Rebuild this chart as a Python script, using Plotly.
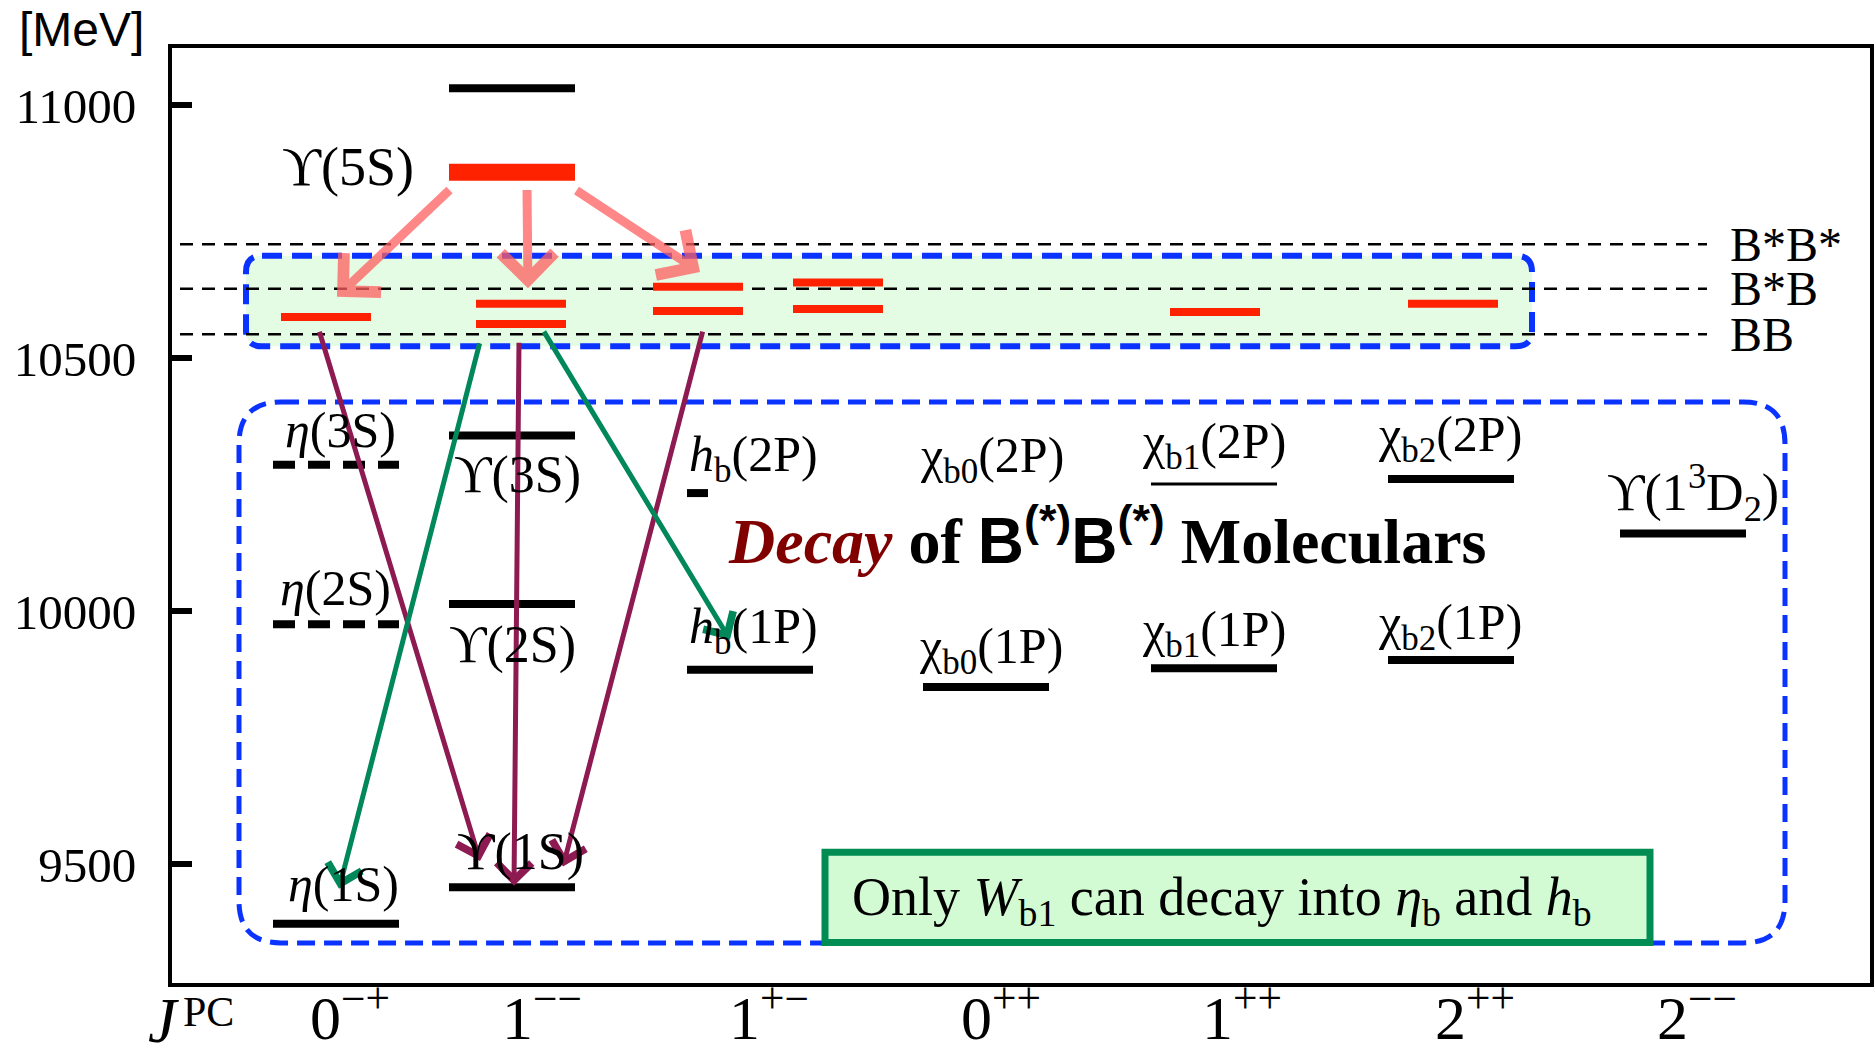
import plotly.graph_objects as go

# ---------------- data ----------------
jpc_labels = ["0<sup>−+</sup>", "1<sup>−−</sup>", "1<sup>+−</sup>", "0<sup>++</sup>",
              "1<sup>++</sup>", "2<sup>++</sup>", "2<sup>−−</sup>"]

# ordinary bottomonium levels (MeV)
level_names = ["η(1S)", "η(2S)", "η(3S)", "ϒ(1S)", "ϒ(2S)", "ϒ(3S)", "ϒ(6S)",
               "hb(1P)", "hb(2P)", "χb0(1P)", "χb1(1P)", "χb1(2P)",
               "χb2(1P)", "χb2(2P)", "ϒ(1D2)"]
level_col = [0, 0, 0, 1, 1, 1, 1, 2, 2, 3, 4, 4, 5, 5, 6]
level_mass = [9383, 9975, 10290, 9455, 10015, 10348, 11034, 9885, 10234,
              9851, 9888, 10252, 9904, 10262, 10154]

# B(*)B(*) molecular states (red)
mol_col = [0, 1, 1, 2, 2, 3, 3, 4, 5]
mol_mass = [10582, 10608, 10568, 10642, 10594, 10650, 10598, 10592, 10608]

upsilon5s_col = 1
upsilon5s_mass = 10868

threshold_names = ["B*B*", "B*B", "BB"]
threshold_mass = [10726, 10638, 10548]

ytick_vals = [9500, 10000, 10500, 11000]
ytick_text = ["9500", "10000", "10500", "11000"]

# decays: (start position, start mass) -> (end position, end mass)
pink_from = [(451, 10836), (527, 10836), (575, 10834)]
pink_to = [(337, 10622), (528, 10639), (700, 10671)]
purple_from = [(319, 10556), (519, 10534), (703, 10556)]
purple_to = [(480, 9507), (514, 9458), (563, 9496)]
green_from = [(480, 10533), (543, 10556)]
green_to = [(339, 9452), (730, 9944)]

# ---------------- layout / style ----------------
W, H = 1874, 1050
L, R, T, B = 172, 4, 48, 67
XR = [172, 1870]
YR = [9265.8, 11113.6]
PX_PER_MEV = (H - T - B) / (YR[1] - YR[0])

col_center = [336, 512, 750, 986, 1214, 1451, 1683]
mol_center = [326, 521, 698, 838, 1215, 1453]
half_w = 63
mol_half = 45
cat_label_x = [350, 542, 769, 1001, 1242, 1475, 1697]

level_style = {"η(2S)": "dash", "η(3S)": "dash", "χb1(2P)": "thin", "hb(2P)": "short"}

SERIF = "Liberation Serif, Times New Roman, serif"
SANS = "Liberation Sans, Arial, sans-serif"
RED = "#ff2200"
BLUE = "#0a33ff"


def seg(xs, ys):
    X, Y = [], []
    for (x0, x1), y in zip(xs, ys):
        X += [x0, x1, None]
        Y += [y, y, None]
    return X, Y


fig = go.Figure()

groups = {"solid": ([], []), "dash": ([], []), "thin": ([], []), "short": ([], [])}
for n, c, m in zip(level_names, level_col, level_mass):
    st = level_style.get(n, "solid")
    if st == "short":
        x0 = col_center[c] - half_w
        groups[st][0].append((x0, x0 + 21))
    else:
        groups[st][0].append((col_center[c] - half_w, col_center[c] + half_w))
    groups[st][1].append(m)

for st, width, dash in [("solid", 8, "solid"), ("short", 8, "solid"),
                        ("thin", 3, "solid"), ("dash", 8, "22px,13px")]:
    X, Y = seg(*groups[st])
    fig.add_trace(go.Scatter(x=X, y=Y, mode="lines", hoverinfo="skip",
                             line=dict(color="black", width=width, dash=dash),
                             showlegend=False))

# thresholds
X, Y = seg([(180, 1707)] * len(threshold_mass), threshold_mass)
fig.add_trace(go.Scatter(x=X, y=Y, mode="lines", hoverinfo="skip",
                         line=dict(color="black", width=2.5, dash="13px,9px"),
                         showlegend=False))

# molecular states
X, Y = seg([(mol_center[c] - mol_half, mol_center[c] + mol_half) for c in mol_col], mol_mass)
fig.add_trace(go.Scatter(x=X, y=Y, mode="lines", hoverinfo="skip",
                         line=dict(color=RED, width=8), showlegend=False))
# Upsilon(5S)
X, Y = seg([(col_center[upsilon5s_col] - half_w, col_center[upsilon5s_col] + half_w)], [upsilon5s_mass])
fig.add_trace(go.Scatter(x=X, y=Y, mode="lines", hoverinfo="skip",
                         line=dict(color=RED, width=17), showlegend=False))


def rounded(x0, x1, y0, y1, r):
    ry = r / PX_PER_MEV
    return (f"M {x0+r},{y1} L {x1-r},{y1} Q {x1},{y1} {x1},{y1-ry} "
            f"L {x1},{y0+ry} Q {x1},{y0} {x1-r},{y0} L {x0+r},{y0} "
            f"Q {x0},{y0} {x0},{y0+ry} L {x0},{y1-ry} Q {x0},{y1} {x0+r},{y1} Z")


shapes = [
    dict(type="path", xref="x", yref="y", layer="below",
         path=rounded(246, 1532, 10524, 10703, 16),
         fillcolor="#e4fbe4", line=dict(color=BLUE, width=6, dash="20px,10px")),
    dict(type="path", xref="x", yref="y", layer="below",
         path=rounded(239, 1785, 9345, 10414, 42),
         fillcolor="rgba(0,0,0,0)", line=dict(color=BLUE, width=5, dash="18px,9px")),
    dict(type="rect", xref="x", yref="y", layer="above",
         x0=825, x1=1650, y0=9346, y1=9524,
         fillcolor="#d3fbd3", line=dict(color="#008c52", width=7)),
]

ann = []


def arrows(frm, to, color, width, size):
    for (ax, ay), (x, y) in zip(frm, to):
        ann.append(dict(x=x, y=y, ax=ax, ay=ay, xref="x", yref="y", axref="x", ayref="y",
                        text="", showarrow=True, arrowhead=4, arrowsize=size,
                        arrowwidth=width, arrowcolor=color, standoff=0, startstandoff=0))


arrows(pink_from, pink_to, "rgba(255,95,95,0.75)", 9, 1.15)
arrows(purple_from, purple_to, "#8e1a52", 5, 1.35)
arrows(green_from, green_to, "#00875a", 5, 1.35)


def label(text, x, y, size=50, **kw):
    d = dict(text=text, x=x, y=y, xref="x", yref="y", showarrow=False,
             font=dict(family=SERIF, size=size, color="black"),
             xanchor="center", yanchor="middle")
    d.update(kw)
    ann.append(d)


level_labels = [
    ("ϒ(5S)", 348, 10878, 54),
    ("<i>η</i>(3S)", 340, 10359, 50),
    ("ϒ(3S)", 517, 10270, 52),
    ("<i>h</i><sub>b</sub>(2P)", 753, 10303, 50),
    ("χ<sub>b0</sub>(2P)", 992, 10301, 50),
    ("χ<sub>b1</sub>(2P)", 1214, 10329, 50),
    ("χ<sub>b2</sub>(2P)", 1450, 10343, 50),
    ("ϒ(1<sup>3</sup>D<sub>2</sub>)", 1693, 10236, 52),
    ("<i>η</i>(2S)", 335, 10046, 50),
    ("ϒ(2S)", 512, 9934, 52),
    ("<i>h</i><sub>b</sub>(1P)", 753, 9963, 50),
    ("χ<sub>b0</sub>(1P)", 991, 9924, 50),
    ("χ<sub>b1</sub>(1P)", 1214, 9957, 50),
    ("χ<sub>b2</sub>(1P)", 1450, 9971, 50),
    ("ϒ(1S)", 520, 9525, 52),
    ("<i>η</i>(1S)", 343, 9461, 50),
]
for t, x, y, s in level_labels:
    label(t, x, y, size=s)

for name, m in zip(threshold_names, threshold_mass):
    label(name, 1728, m, size=48, xanchor="left")

label("<span style='color:#800000'><b><i>Decay</i></b></span><b> of </b>"
      "<span style='font-family:Liberation Sans'><b>B<sup>(*)</sup>B<sup>(*)</sup></b></span>"
      "<b> Moleculars</b>", 1107, 10150, size=64)

label("Only <i>W</i><sub>b1</sub> can decay into <i>η</i><sub>b</sub> and <i>h</i><sub>b</sub>",
      1222, 9428, size=54)


def paper(px, py):
    return (px - L) / (W - L - R), (H - B - py) / (H - T - B)


px_, py_ = paper(81, 30)
ann.append(dict(text="[MeV]", x=px_, y=py_, xref="paper", yref="paper", showarrow=False,
                font=dict(family=SANS, size=48, color="black"), xanchor="center", yanchor="middle"))
px_, py_ = paper(181, 1020)
ann.append(dict(text="<i>J</i>", x=px_, y=py_, xref="paper", yref="paper",
                showarrow=False, font=dict(family=SERIF, size=64, color="black"),
                xanchor="right", yanchor="middle"))
px_, py_ = paper(181, 1012)
ann.append(dict(text="PC", x=px_, y=py_, xref="paper", yref="paper",
                showarrow=False, font=dict(family=SERIF, size=42, color="black"),
                xanchor="left", yanchor="middle"))

fig.update_layout(
    width=W, height=H, autosize=False,
    margin=dict(l=L, r=R, t=T, b=B, pad=0),
    paper_bgcolor="white", plot_bgcolor="white",
    showlegend=False,
    shapes=shapes, annotations=ann,
    xaxis=dict(range=XR, showgrid=False, zeroline=False, showline=True, mirror=True,
               linecolor="black", linewidth=4, ticks="", automargin=False,
               tickmode="array", tickvals=cat_label_x, ticktext=jpc_labels,
               tickfont=dict(family=SERIF, size=62, color="black"), ticklabelstandoff=-22),
    yaxis=dict(range=YR, showgrid=False, zeroline=False, showline=True, mirror=True,
               linecolor="black", linewidth=4, ticks="inside", ticklen=20, tickwidth=6,
               automargin=False,
               tickcolor="black", tickmode="array", tickvals=ytick_vals, ticktext=ytick_text,
               tickfont=dict(family=SERIF, size=49, color="black"), ticklabelstandoff=22),
)

fig.write_html("out.html")
